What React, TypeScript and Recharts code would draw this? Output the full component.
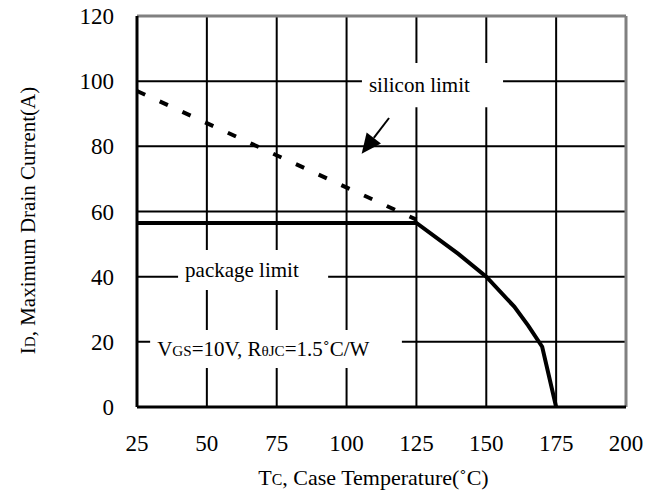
import React from 'react';
import {
  LineChart,
  Line,
  XAxis,
  YAxis,
  CartesianGrid,
  ReferenceLine,
  ReferenceArea,
} from 'recharts';

// Axis ticks
const TEMP_TICKS = [25, 50, 75, 100, 125, 150, 175, 200];
const CURRENT_TICKS = [0, 20, 40, 60, 80, 100, 120];

// Silicon limit (dashed)
const SILICON_T = [25, 125];
const SILICON_ID = [97, 57.5];

// Package limit + thermal derating (solid)
const PACKAGE_T = [25, 125, 140, 150, 160, 165, 170, 175];
const PACKAGE_ID = [56.5, 56.5, 47, 40, 30.8, 25, 18.5, 0];

const siliconData = SILICON_T.map((t, i) => ({ t, id: SILICON_ID[i] }));
const packageData = PACKAGE_T.map((t, i) => ({ t, id: PACKAGE_ID[i] }));

const FONT = '"Liberation Serif", "Times New Roman", serif';
const SMALL = '0.72em';

// text drawn over a white patch that hides the grid behind it
const boxText = (children: React.ReactNode) => (props: any) => {
  const vb = props.viewBox;
  return (
    <text
      x={vb.x + 7}
      y={vb.y + vb.height / 2 + 7}
      fontFamily={FONT}
      fontSize={21}
      fill="#000"
    >
      {children}
    </text>
  );
};

// pointer line ending in a filled head
const Arrow = (p: any) => {
  const { x1, y1, x2, y2 } = p;
  const ang = Math.atan2(y2 - y1, x2 - x1);
  const len = 20;
  const half = 9;
  const bx = x2 - len * Math.cos(ang);
  const by = y2 - len * Math.sin(ang);
  const nx = -Math.sin(ang) * half;
  const ny = Math.cos(ang) * half;
  return (
    <g>
      <line x1={x1} y1={y1} x2={bx} y2={by} stroke="#000" strokeWidth={2} />
      <polygon
        points={`${x2},${y2} ${bx + nx},${by + ny} ${bx - nx},${by - ny}`}
        fill="#000"
      />
    </g>
  );
};

const XTick = (props: any) => (
  <text
    x={props.x}
    y={props.y + 16}
    textAnchor="middle"
    fontFamily={FONT}
    fontSize={23}
    fill="#000"
  >
    {props.payload.value}
  </text>
);

const YTick = (props: any) => (
  <text
    x={props.x}
    y={props.y + 8}
    textAnchor="end"
    fontFamily={FONT}
    fontSize={23}
    fill="#000"
  >
    {props.payload.value}
  </text>
);

const xTitle = (props: any) => {
  const vb = props.viewBox;
  return (
    <text
      x={vb.x + vb.width / 2 - 8}
      y={vb.y + 78}
      textAnchor="middle"
      fontFamily={FONT}
      fontSize={22}
      fill="#000"
    >
      T<tspan fontSize={SMALL}>C</tspan>, Case Temperature(˚C)
    </text>
  );
};

const yTitle = (props: any) => {
  const vb = props.viewBox;
  const cx = 35;
  const cy = vb.y + vb.height / 2 + 9;
  return (
    <text
      x={cx}
      y={cy}
      transform={`rotate(-90 ${cx} ${cy})`}
      textAnchor="middle"
      fontFamily={FONT}
      fontSize={21}
      fill="#000"
    >
      I<tspan fontSize={SMALL}>D</tspan>, Maximum Drain Current(A)
    </text>
  );
};

export default function App() {
  return (
    <div style={{ position: 'absolute', left: 0, top: 0, background: '#fff' }}>
      <LineChart
        width={656}
        height={490}
        margin={{ top: 16, right: 30, bottom: 0, left: 0 }}
      >
        <CartesianGrid stroke="#000" strokeWidth={2} />
        <XAxis
          type="number"
          dataKey="t"
          domain={[25, 200]}
          ticks={TEMP_TICKS}
          height={83}
          axisLine={false}
          tickLine={false}
          tickSize={0}
          tickMargin={28}
          tick={<XTick />}
          label={xTitle}
        />
        <YAxis
          type="number"
          dataKey="id"
          domain={[0, 120]}
          ticks={CURRENT_TICKS}
          width={137}
          axisLine={false}
          tickLine={false}
          tickSize={0}
          tickMargin={23}
          tick={<YTick />}
          label={yTitle}
        />

        <ReferenceArea
          x1={105.5}
          x2={156}
          y1={92}
          y2={105.6}
          fill="#fff"
          fillOpacity={1}
          stroke="none"
          label={boxText('silicon limit')}
        />
        <ReferenceArea
          x1={39.7}
          x2={93.4}
          y1={35.9}
          y2={48.2}
          fill="#fff"
          fillOpacity={1}
          stroke="none"
          label={boxText('package limit')}
        />
        <ReferenceArea
          x1={29.7}
          x2={119.8}
          y1={12}
          y2={23.6}
          fill="#fff"
          fillOpacity={1}
          stroke="none"
          label={boxText(
            <>
              V<tspan fontSize={SMALL}>GS</tspan>=10V, R
              <tspan fontSize={SMALL}>θJC</tspan>=1.5˚C/W
            </>
          )}
        />

        <ReferenceLine y={120} stroke="#808080" strokeWidth={3} />
        <ReferenceLine x={200} stroke="#808080" strokeWidth={3} />
        <ReferenceLine x={25} stroke="#000" strokeWidth={3} />
        <ReferenceLine y={0} stroke="#000" strokeWidth={3} />

        <ReferenceLine
          segment={[
            { x: 115.2, y: 88.7 },
            { x: 105.4, y: 77.7 },
          ]}
          shape={Arrow}
        />

        <Line
          data={siliconData}
          dataKey="id"
          type="linear"
          stroke="#000"
          strokeWidth={4}
          strokeDasharray="9 16"
          dot={false}
          isAnimationActive={false}
        />
        <Line
          data={packageData}
          dataKey="id"
          type="linear"
          stroke="#000"
          strokeWidth={4}
          dot={false}
          isAnimationActive={false}
        />
      </LineChart>
    </div>
  );
}
